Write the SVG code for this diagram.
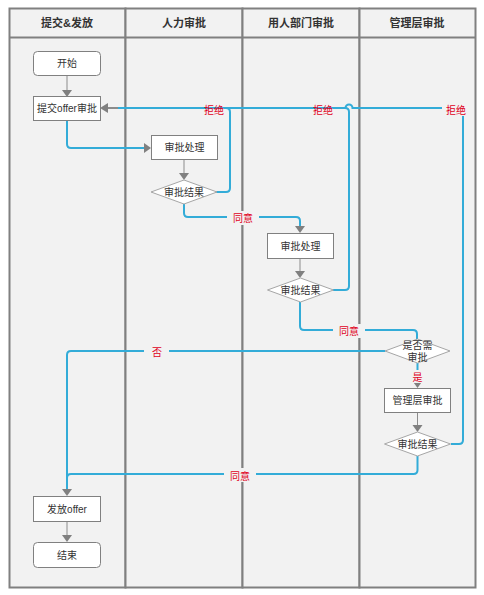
<svg xmlns="http://www.w3.org/2000/svg" width="484" height="595" viewBox="0 0 484 595">
<defs>
<style>
.lane{fill:#f2f2f2;stroke:#808080;stroke-width:2}
.hdr{font-family:"Liberation Sans","Noto Sans CJK SC",sans-serif;font-size:11px;font-weight:bold;fill:#333;text-anchor:middle;dominant-baseline:central}
.box{fill:#ffffff;stroke:#808080;stroke-width:1}
.dia{fill:#ffffff;stroke:#a6a6a6;stroke-width:1}
.txt{font-family:"Liberation Sans","Noto Sans CJK SC",sans-serif;font-size:10px;fill:#333;text-anchor:middle;dominant-baseline:central}
.blue{fill:none;stroke:#33acd8;stroke-width:2}
.gray{fill:none;stroke:#8c8c8c;stroke-width:1}
.head{fill:#808080;stroke:none}
.lbl{font-family:"Liberation Sans","Noto Sans CJK SC",sans-serif;font-size:10px;fill:#e0001b;text-anchor:middle;dominant-baseline:central}
.lblbg{fill:#f2f2f2;stroke:none}
</style>
</defs>
<g id="lanes">
<rect class="lane" x="9.5" y="8.5" width="116" height="579"/>
<rect class="lane" x="125.5" y="8.5" width="117" height="579"/>
<rect class="lane" x="242.5" y="8.5" width="117" height="579"/>
<rect class="lane" x="359.5" y="8.5" width="116" height="579"/>
<line x1="9.5" y1="37.5" x2="475.5" y2="37.5" stroke="#808080" stroke-width="2"/>
<text class="hdr" x="67" y="23">提交&amp;发放</text>
<text class="hdr" x="184" y="23">人力审批</text>
<text class="hdr" x="301" y="23">用人部门审批</text>
<text class="hdr" x="417" y="23">管理层审批</text>
</g>
<g id="connectors">
<path class="gray" d="M67,75 V91"/>
<polygon class="head" points="62,90 72,90 67,97"/>
<path class="blue" d="M67,120 V144 Q67,148 71,148 H145"/>
<polygon class="head" points="144,143 144,153 151,148"/>
<path class="gray" d="M184,159 V174"/>
<polygon class="head" points="179,173 189,173 184,180"/>
<path class="blue" d="M216,192 H226 Q230,192 230,188 V112 Q230,108 226,108 H118"/>
<path class="blue" d="M333,290 H345 Q349,290 349,286 V112 Q349,108 345,108 H118"/>
<path class="blue" d="M451,444 H459 Q463,444 463,440 V112 Q463,108 459,108 H352.5 A3.5,3.5 0 0 0 345.5,108 H118"/>
<path d="M107,108 H118" stroke="#8c8c8c" stroke-width="2" fill="none"/>
<polygon class="head" points="108,103 108,113 100,108"/>
<path class="blue" d="M184,204 V213 Q184,217 188,217 H296 Q300,217 300,221 V226"/>
<polygon class="head" points="295,226 305,226 300,233"/>
<path class="gray" d="M300,258 V272"/>
<polygon class="head" points="295,271 305,271 300,278"/>
<path class="blue" d="M300,302 V326 Q300,330 304,330 H413 Q417,330 417,334 V339"/>
<path class="blue" d="M385,351 H71 Q67,351 67,355 V490"/>
<path class="blue" d="M417.5,456 V470 Q417.5,474 413.5,474 H71 Q67,474 67,478 V490"/>
<polygon class="head" points="62,489 72,489 67,496"/>
<path class="blue" d="M417.5,363 V382"/>
<polygon class="head" points="412.5,381 422.5,381 417.5,388"/>
<path class="gray" d="M417.5,412 V426"/>
<polygon class="head" points="412.5,425 422.5,425 417.5,432"/>
<path class="gray" d="M67,521 V536"/>
<polygon class="head" points="62,535 72,535 67,542"/>
<text class="lbl" x="214" y="110">拒绝</text>
<text class="lbl" x="323" y="110">拒绝</text>
<rect class="lblbg" x="442" y="102" width="26" height="14"/>
<text class="lbl" x="456" y="110">拒绝</text>
<rect class="lblbg" x="227" y="211" width="32" height="14"/>
<text class="lbl" x="243" y="218">同意</text>
<rect class="lblbg" x="333" y="324" width="32" height="14"/>
<text class="lbl" x="349" y="331">同意</text>
<rect class="lblbg" x="144" y="345" width="25" height="14"/>
<text class="lbl" x="157" y="352">否</text>
<rect class="lblbg" x="410" y="370" width="15" height="13"/>
<text class="lbl" x="417.5" y="377">是</text>
<rect class="lblbg" x="224" y="468" width="32" height="14"/>
<text class="lbl" x="240" y="476">同意</text>
</g>
<g id="start">
<rect class="box" x="33.5" y="51.5" width="67" height="24" rx="4"/>
<text class="txt" x="67" y="63.5">开始</text>
</g>
<g id="submit">
<rect class="box" x="33.5" y="96.5" width="67" height="24"/>
<text class="txt" x="67" y="108.5">提交offer审批</text>
</g>
<g id="hr-process">
<rect class="box" x="151.5" y="135.5" width="66" height="24"/>
<text class="txt" x="184.5" y="147.5">审批处理</text>
</g>
<g id="hr-result">
<polygon class="dia" points="151,192 184,180 217,192 184,204"/>
<text class="txt" x="184" y="192">审批结果</text>
</g>
<g id="dept-process">
<rect class="box" x="267.5" y="233.5" width="66" height="25"/>
<text class="txt" x="300.5" y="246">审批处理</text>
</g>
<g id="dept-result">
<polygon class="dia" points="267.5,290 300.5,278 333.5,290 300.5,302"/>
<text class="txt" x="300.5" y="290">审批结果</text>
</g>
<g id="need-approval">
<polygon class="dia" points="385,351 417.5,339 450,351 417.5,363"/>
<text class="txt" x="417.5" y="345">是否需</text>
<text class="txt" x="417.5" y="357.5">审批</text>
</g>
<g id="mgmt-approve">
<rect class="box" x="384.5" y="388.5" width="66" height="24"/>
<text class="txt" x="417.5" y="400.5">管理层审批</text>
</g>
<g id="mgmt-result">
<polygon class="dia" points="384.5,444 417.5,432 450.5,444 417.5,456"/>
<text class="txt" x="417.5" y="444">审批结果</text>
</g>
<g id="issue">
<rect class="box" x="33.5" y="496.5" width="67" height="25"/>
<text class="txt" x="67" y="509">发放offer</text>
</g>
<g id="end">
<rect class="box" x="33.5" y="542.5" width="67" height="25" rx="4"/>
<text class="txt" x="67" y="555">结束</text>
</g>
</svg>
